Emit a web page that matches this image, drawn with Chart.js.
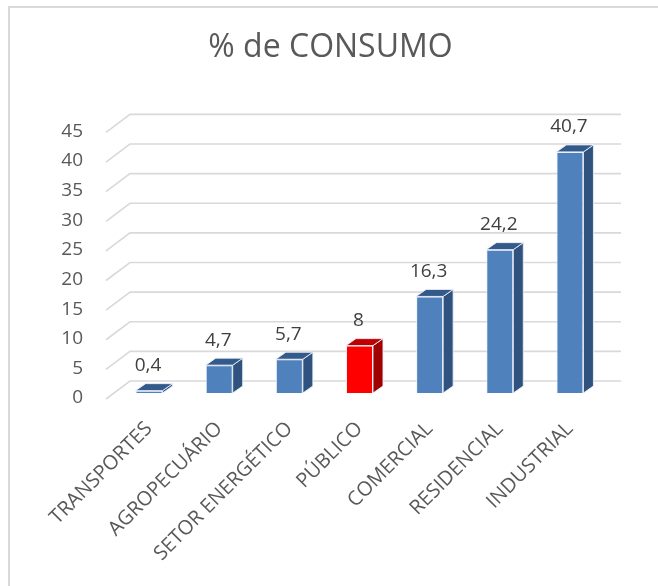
<!DOCTYPE html>
<html>
<head>
<meta charset="utf-8">
<script src="https://cdn.jsdelivr.net/npm/chart.js@4/dist/chart.umd.min.js"></script>
<style>
  html, body { margin: 0; padding: 0; background: #fff; }
  #wrap { width: 658px; height: 586px; }
</style>
</head>
<body>
<div id="wrap"><canvas id="consumo" width="658" height="586"></canvas></div>
<script>
// ---- data ----
const categories = ["TRANSPORTES", "AGROPECUÁRIO", "SETOR ENERGÉTICO", "PÚBLICO", "COMERCIAL", "RESIDENCIAL", "INDUSTRIAL"];
const consumo = [0.4, 4.7, 5.7, 8, 16.3, 24.2, 40.7];
const yTicks = [0, 5, 10, 15, 20, 25, 30, 35, 40, 45];

// colours: front / side / top
const blue = ["#4f81bd", "#30527f", "#34598b"];
const red = ["#ff0000", "#a00000", "#c00000"];
const faces = consumo.map((v, i) => i === 3 ? red : blue);

// fake 3D offsets (pixels)
const DEPTH_X = 10, DEPTH_Y = -7;       // bar depth
const FRONT = { x: -8, y: 6 };           // floor front edge vs bar plane
const BACK = { x: 16, y: -12 };          // back wall vs bar plane

const fontFam = "'Open Sans', sans-serif";

// border + 3D grid behind the bars
const wallPlugin = {
  id: "wall",
  beforeDraw(chart) {
    const ctx = chart.ctx;
    ctx.save();
    ctx.strokeStyle = "#d9d9d9";
    ctx.lineWidth = 2;
    ctx.strokeRect(9, 7, 800, 800);
    ctx.restore();
  },
  beforeDatasetsDraw(chart) {
    const { ctx, chartArea, scales } = chart;
    const ys = scales.y;
    ctx.save();
    ctx.strokeStyle = "#d9d9d9";
    ctx.lineWidth = 1.6;
    yTicks.forEach(v => {
      const yb = ys.getPixelForValue(v);
      ctx.beginPath();
      ctx.moveTo(chartArea.left + FRONT.x, yb + FRONT.y);
      ctx.lineTo(chartArea.left + BACK.x, yb + BACK.y);
      ctx.lineTo(chartArea.right + BACK.x, yb + BACK.y);
      ctx.stroke();
    });
    ctx.restore();
  }
};

// side + top faces and value labels
const boxPlugin = {
  id: "box3d",
  afterDatasetsDraw(chart) {
    const ctx = chart.ctx;
    const meta = chart.getDatasetMeta(0);
    ctx.save();
    meta.data.forEach((bar, i) => {
      const half = bar.width / 2;
      const l = bar.x - half, r = bar.x + half;
      const top = bar.y, base = bar.base;
      ctx.strokeStyle = "rgba(235,240,248,0.9)";
      ctx.lineWidth = 1;
      // side
      ctx.fillStyle = faces[i][1];
      ctx.beginPath();
      ctx.moveTo(r, top);
      ctx.lineTo(r + DEPTH_X, top + DEPTH_Y);
      ctx.lineTo(r + DEPTH_X, base + DEPTH_Y);
      ctx.lineTo(r, base);
      ctx.closePath();
      ctx.fill();
      ctx.stroke();
      // top
      ctx.fillStyle = faces[i][2];
      ctx.beginPath();
      ctx.moveTo(l, top);
      ctx.lineTo(l + DEPTH_X, top + DEPTH_Y);
      ctx.lineTo(r + DEPTH_X, top + DEPTH_Y);
      ctx.lineTo(r, top);
      ctx.closePath();
      ctx.fill();
      ctx.stroke();

      // value label
      ctx.fillStyle = "#404040";
      ctx.font = "19px " + fontFam;
      ctx.textAlign = "center";
      ctx.textBaseline = "middle";
      ctx.fillText(String(consumo[i]).replace(".", ","), bar.x - 1, top - 25);
    });
    ctx.restore();
  }
};

new Chart(document.getElementById("consumo"), {
  type: "bar",
  data: {
    labels: categories,
    datasets: [{
      data: consumo,
      backgroundColor: faces.map(f => f[0]),
      borderColor: "rgba(235,240,248,0.9)",
      borderWidth: 1,
      categoryPercentage: 1,
      barPercentage: 0.385
    }]
  },
  options: {
    responsive: false,
    animation: false,
    layout: { padding: { left: 56, right: 53, top: 0, bottom: 0 } },
    plugins: {
      legend: { display: false },
      tooltip: { enabled: false },
      title: {
        display: true,
        text: "% de CONSUMO",
        color: "#595959",
        font: { family: fontFam, size: 32, weight: "normal" },
        padding: { top: 29, bottom: 59 }
      }
    },
    scales: {
      x: {
        grid: { display: false, drawTicks: false },
        border: { display: false },
        ticks: {
          color: "#595959",
          font: { family: fontFam, size: 20 },
          autoSkip: false,
          minRotation: 45,
          maxRotation: 45,
          padding: 24
        },
        afterFit(scale) { scale.height = 193; }
      },
      y: {
        min: 0,
        max: 45,
        grid: { display: false, drawTicks: false },
        border: { display: false },
        ticks: {
          stepSize: 5,
          color: "#595959",
          font: { family: fontFam, size: 19 },
          padding: 31,
          labelOffset: 5
        },
        afterFit(scale) { scale.width = 58; }
      }
    }
  },
  plugins: [wallPlugin, boxPlugin]
});
</script>
</body>
</html>
